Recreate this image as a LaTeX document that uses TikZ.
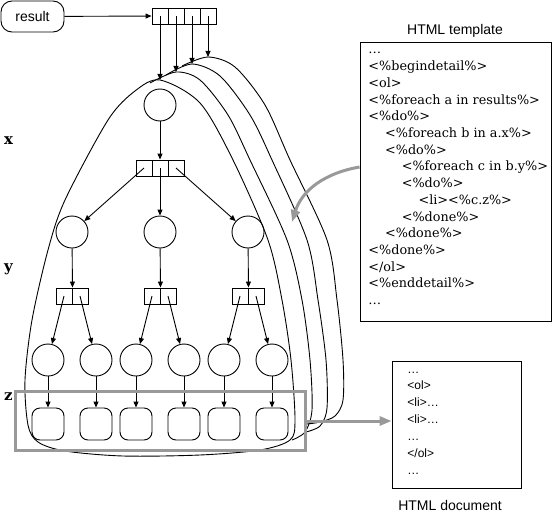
\documentclass[tikz,border=0pt]{standalone}
\usepackage{fontspec}
\setmainfont{DejaVu Serif}
\setsansfont{Liberation Sans}
\usetikzlibrary{arrows.meta}

\tikzset{
  state/.style={draw, circle, minimum size=32pt, inner sep=0pt},
  leaf/.style={draw, rounded corners=8pt, minimum size=32pt, inner sep=0pt},
  cell/.style={draw, minimum size=16pt, inner sep=0pt},
  link/.style={-{Triangle[length=6pt,width=5pt]}},
  halftone/.style={draw=black!40, line width=3pt},
  flow/.style={black!40, line width=3pt, -{Triangle[length=12pt,width=9pt]}},
  level/.style={font=\bfseries\fontsize{15}{17}\selectfont, anchor=base},
  title/.style={font=\sffamily\fontsize{14}{16}\selectfont, anchor=base},
}

\begin{document}
\begin{tikzpicture}[x=1pt, y=-1pt, line width=0.9pt]
\useasboundingbox (0,0) rectangle (553,516);

% stacked result sets (back to front)
\draw plot[smooth] coordinates {(182,66) (208,57) (235,67) (265,105) (290,160)
  (327,240) (337,300) (343,360) (343,400) (335,416) (320,422) (307,424)};
\draw plot[smooth] coordinates {(166,75) (192,64) (220,76) (250,115) (272,160)
  (307,240) (318,300) (326,360) (327,408) (320,426) (306,432)};
\draw plot[smooth] coordinates {(150,83) (176,72) (200,80) (228,115) (250,160)
  (287,240) (302,300) (310,360) (312,410) (305,432) (292,440)};
\draw plot[smooth cycle] coordinates {(160,80) (200,103) (233,160) (268,240)
  (282,300) (291,360) (295,420) (290,440) (260,450) (200,455) (123,456) (65,451)
  (38,442) (28,425) (25,380) (32,320) (48,250) (65,200) (108,120) (135,91)};
\coordinate (top1) at (160,80);
\coordinate (top2) at (176,72);
\coordinate (top3) at (192,64);
\coordinate (top4) at (208,57);

% result pointer and its array
\node[draw, rounded corners=11pt, minimum width=63pt, minimum height=31pt,
  font=\sffamily\fontsize{14}{16}\selectfont] (result) at (32.5,16.5) {result};
\node[cell] (r1) at (160,16) {};
\node[cell] (r2) at (176,16) {};
\node[cell] (r3) at (192,16) {};
\node[cell] (r4) at (208,16) {};
\draw[link] (result) -- (r1);
\draw[link] (r1.center) -- (top1);
\draw[link] (r2.center) -- (top2);
\draw[link] (r3.center) -- (top3);
\draw[link] (r4.center) -- (top4);

% level x
\node[state] (root) at (160,105) {};
\node[cell] (x1) at (144,168) {};
\node[cell] (x2) at (160,168) {};
\node[cell] (x3) at (176,168) {};
\draw[link] (root) -- (x2);

% level y
\node[state] (a) at (72,232) {};
\node[state] (b) at (160,232) {};
\node[state] (c) at (248,232) {};
\draw[link] (x1.center) -- (a);
\draw[link] (x2.center) -- (b);
\draw[link] (x3.center) -- (c);
\foreach \n in {a,b,c} {
  \node[cell] (\n1) at ([xshift=-8pt]\n |- 0,296) {};
  \node[cell] (\n2) at ([xshift=8pt]\n |- 0,296) {};
  \draw[link] (\n) -- (\n1.north east);
}

% level z
\foreach \n/\x in {a/48, b/136, c/224} {
  \node[state] (\n l) at (\x,360) {};
  \node[state] (\n r) at (\x+48,360) {};
  \node[leaf] (\n lz) at (\x,424) {};
  \node[leaf] (\n rz) at (\x+48,424) {};
  \draw[link] (\n1.center) -- (\n l);
  \draw[link] (\n2.center) -- (\n r);
  \draw[link] (\n l) -- (\n lz);
  \draw[link] (\n r) -- (\n rz);
}
\node[halftone, minimum width=289.5pt, minimum height=59pt] (zrow) at (160.25,421) {};

% level labels
\node[level] (lx) at (8.5,144) {x};
\node[level] (ly) at (8.5,271) {y};
\node[level] (lz) at (8.5,400) {z};

% HTML template
\node[title] (tpltitle) at (455,35) {HTML template};
\node[draw, minimum width=191pt, minimum height=279pt] (tpl) at (455.5,181.5) {};
\foreach \lvl/\txt [count=\i from 0] in {0/{\ldots}, 0/{<\%begindetail\%>}, 0/{<ol>},
  0/{<\%foreach a in results\%>}, 0/{<\%do\%>}, 1/{<\%foreach b in a.x\%>},
  1/{<\%do\%>}, 2/{<\%foreach c in b.y\%>}, 2/{<\%do\%>}, 3/{<li><\%c.z\%>},
  2/{<\%done\%>}, 1/{<\%done\%>}, 0/{<\%done\%>}, 0/{</ol>},
  0/{<\%enddetail\%>}, 0/{\ldots}}
  \node[anchor=base west, inner sep=0pt, font=\fontsize{12.8}{15}\selectfont]
    (t\i) at (368+16.7*\lvl, 54+16.7*\i) {\txt};

% HTML document
\node[draw, minimum width=129pt, minimum height=127pt] (doc) at (456.5,424.5) {};
\foreach \txt [count=\i from 0] in {{\ldots}, {<ol>}, {<li>\ldots}, {<li>\ldots},
  {\ldots}, {</ol>}, {\ldots}}
  \node[anchor=base west, inner sep=0pt, font=\sffamily\fontsize{12}{14}\selectfont]
    (d\i) at (407, 373+16.9*\i) {\txt};
\node[title] (doctitle) at (450,510) {HTML document};

% template applied / document produced
\coordinate (hit) at (292,222);
\draw[flow] ([yshift=14.5pt]tpl.west) .. controls (325,173) and (302,190) .. (hit);
\draw[flow] (zrow.east) -- (doc.west |- zrow.east);

\end{tikzpicture}
\end{document}
